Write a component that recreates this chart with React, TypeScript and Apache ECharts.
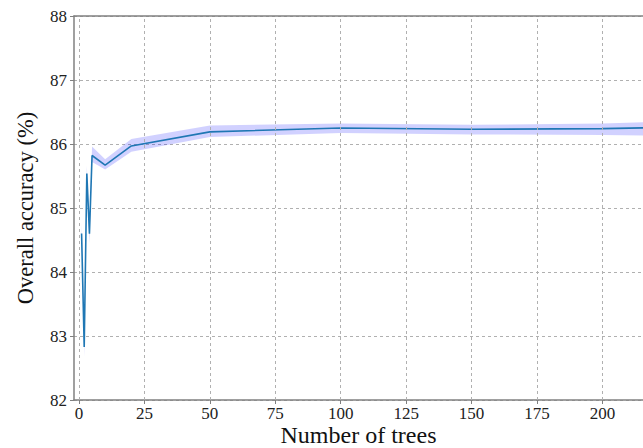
import { useEffect, useRef } from "react";
import * as echarts from "echarts";

const treeCounts = [1, 2, 3, 4, 5, 10, 20, 50, 100, 150, 200, 250];
const meanAccuracy = [84.6, 82.83, 85.54, 84.6, 85.82, 85.67, 85.97, 86.19, 86.25, 86.23, 86.24, 86.28];
const lowerBound = [84.45, 82.68, 85.42, 84.45, 85.72, 85.6, 85.88, 86.11, 86.17, 86.15, 86.14, 86.12];
const upperBound = [84.78, 82.98, 85.66, 84.74, 85.96, 85.76, 86.08, 86.29, 86.32, 86.3, 86.32, 86.38];
const xTicks = [0, 25, 50, 75, 100, 125, 150, 175, 200];

const FONT = "'Liberation Serif', 'Times New Roman', serif";
const AXIS_COLOR = "#808080";
const GRID_COLOR = "#b0b0b0";

export default function App() {
  const ref = useRef<HTMLDivElement>(null);
  useEffect(() => {
    if (!ref.current) return;
    const chart = echarts.init(ref.current, undefined, { renderer: "svg" });
    const bandData = treeCounts.map((x, i) => [x, lowerBound[i], upperBound[i]]);
    chart.setOption({
      animation: false,
      backgroundColor: "#fff",
      grid: { left: 74, right: 0, top: 16, bottom: 48, containLabel: false, outerBoundsMode: "none" },
      xAxis: [
        {
          type: "value",
          min: -1.9,
          max: 215.5,
          position: "bottom",
          name: "Number of trees",
          nameLocation: "middle",
          nameGap: 23,
          nameMoveOverlap: false,
          nameTextStyle: { fontFamily: FONT, fontSize: 24, lineHeight: 24, color: "#111", verticalAlign: "top" },
          axisLine: { show: true, onZero: false, lineStyle: { color: AXIS_COLOR, width: 1.5 } },
          axisTick: { show: true, length: 4, customValues: xTicks, lineStyle: { color: AXIS_COLOR } },
          axisLabel: { customValues: xTicks, fontFamily: FONT, fontSize: 17, lineHeight: 17, color: "#222", margin: 5 },
          splitLine: { show: false },
        },
        {
          type: "value",
          min: -1.9,
          max: 215.5,
          position: "top",
          axisLine: { show: true, onZero: false, lineStyle: { color: AXIS_COLOR, width: 1.5 } },
          axisTick: { show: false },
          axisLabel: { show: false },
          splitLine: { show: false },
        },
      ],
      yAxis: {
        type: "value",
        min: 82,
        max: 88,
        interval: 1,
        name: "Overall accuracy (%)",
        nameLocation: "middle",
        nameGap: 37,
        nameTextStyle: { fontFamily: FONT, fontSize: 22.5, color: "#111" },
        axisLine: { show: true, onZero: false, lineStyle: { color: AXIS_COLOR, width: 1.5 } },
        axisTick: { show: true, length: 4, lineStyle: { color: AXIS_COLOR } },
        axisLabel: { fontFamily: FONT, fontSize: 17, color: "#222", margin: 7 },
        splitLine: { show: true, lineStyle: { color: GRID_COLOR, type: [3, 3], width: 1 } },
      },
      series: [
        {
          type: "custom",
          z: 2,
          data: bandData,
          renderItem: (params: any, api: any) => {
            if (params.dataIndex !== 0) return null;
            const top = treeCounts.map((x, i) => api.coord([x, upperBound[i]]));
            const bottom = treeCounts.map((x, i) => api.coord([x, lowerBound[i]])).reverse();
            return {
              type: "polygon",
              shape: { points: top.concat(bottom) },
              style: { fill: "rgba(0,0,255,0.18)", stroke: "none" },
            };
          },
          markLine: {
            silent: true,
            symbol: "none",
            label: { show: false },
            lineStyle: { color: GRID_COLOR, type: [3, 3], width: 1 },
            data: xTicks.map((v) => ({ xAxis: v })),
          },
        },
        {
          type: "line",
          z: 3,
          data: treeCounts.map((x, i) => [x, meanAccuracy[i]]),
          symbol: "none",
          lineStyle: { color: "#1f77b4", width: 1.6 },
          clip: true,
        },
      ],
    });
    return () => chart.dispose();
  }, []);
  return <div ref={ref} style={{ width: 643, height: 448, position: "fixed", left: 0, top: 0 }} />;
}
